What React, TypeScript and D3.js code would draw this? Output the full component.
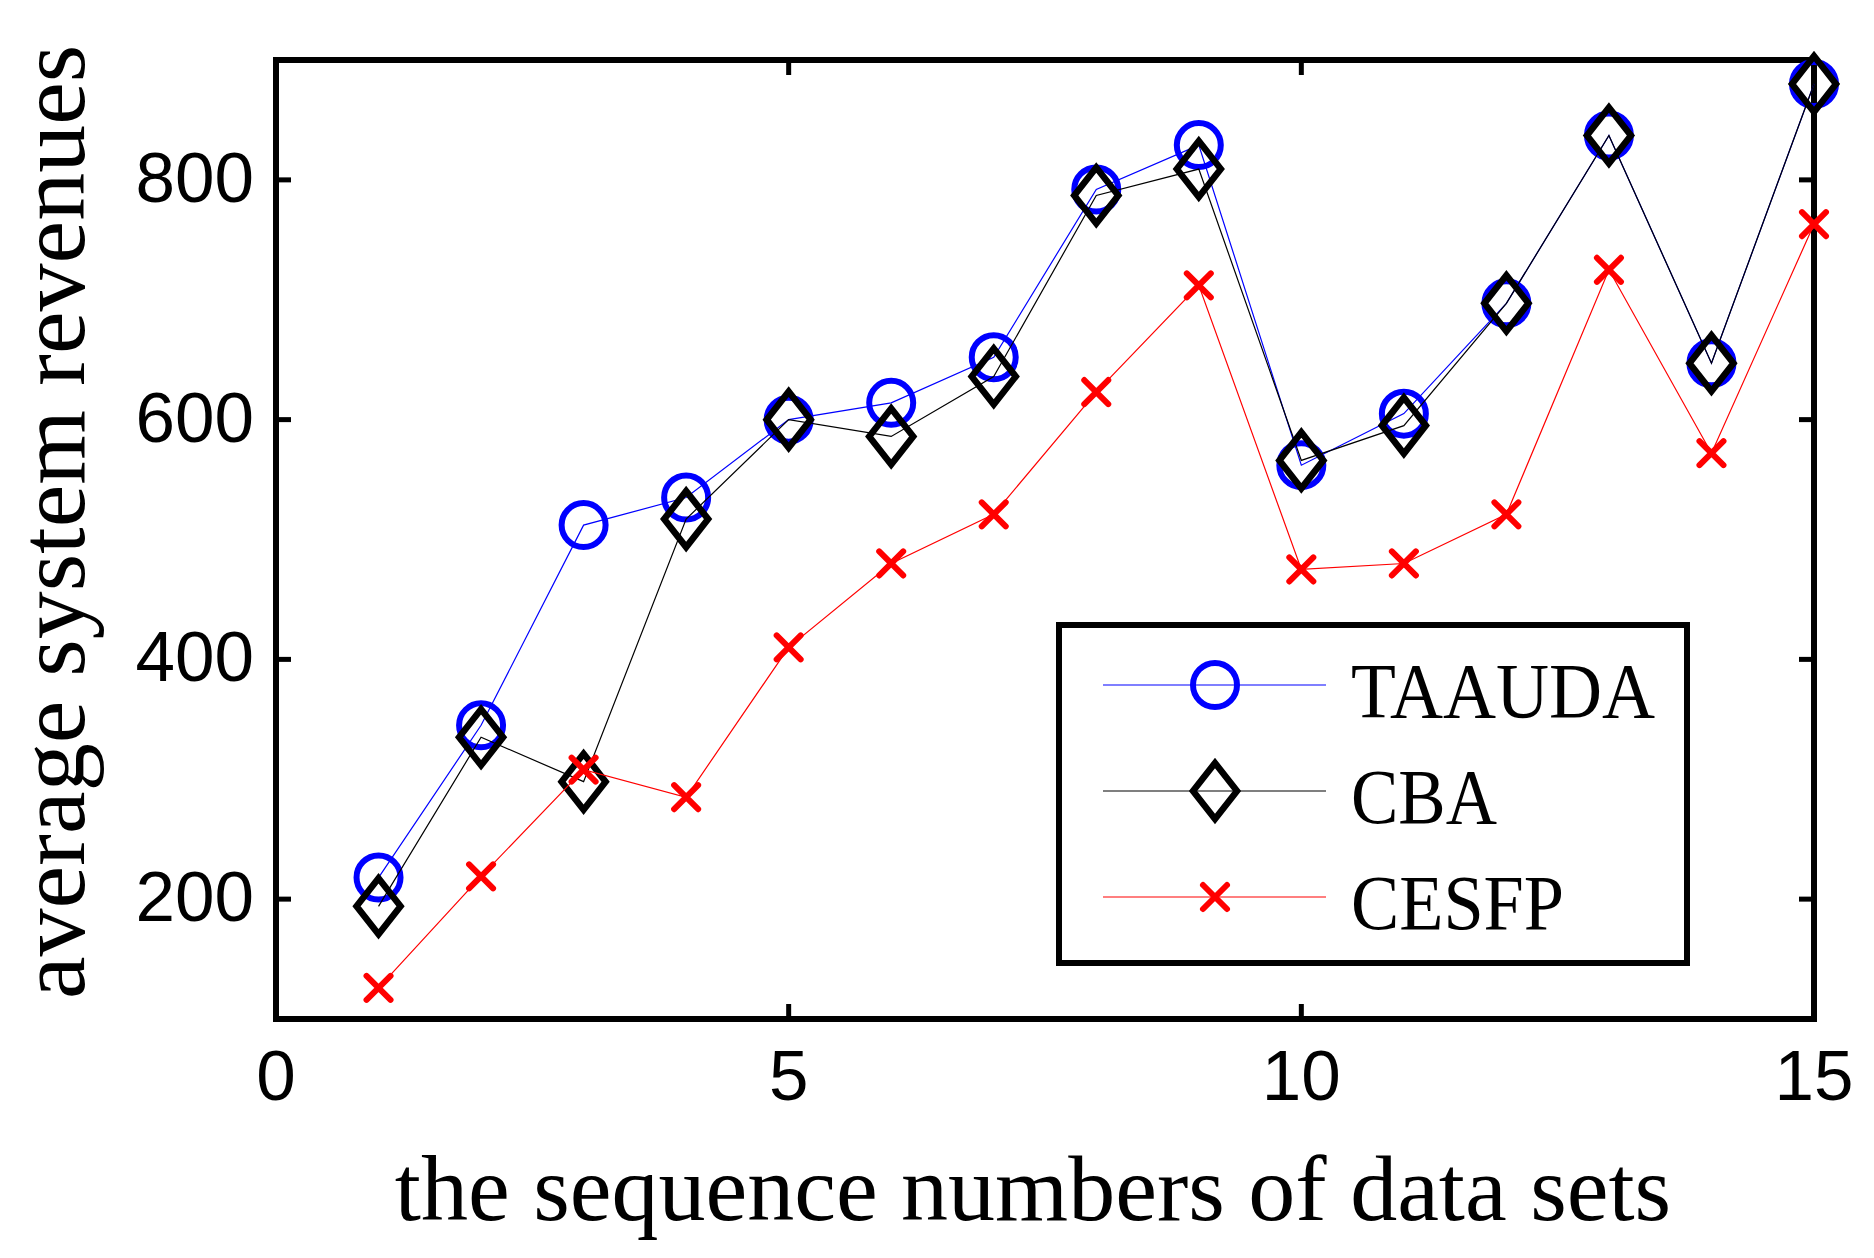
import React, { useEffect, useRef } from 'react';
import * as d3 from 'd3';

// data sets 1..15
const dataSets = [1, 2, 3, 4, 5, 6, 7, 8, 9, 10, 11, 12, 13, 14, 15];
const taauda = [218, 345, 512, 535, 600, 614, 652, 792, 829, 562, 605, 697, 837, 647, 880];
const cba = [194, 335, 298, 517, 600, 586, 636, 787, 809, 566, 595, 697, 837, 647, 880];
const cesfp = [126, 219, 308, 285, 410, 480, 521, 623, 712, 475, 480, 521, 725, 572, 763];

const xTicks = [0, 5, 10, 15];
const yTicks = [200, 400, 600, 800];
const seriesNames = ['TAAUDA', 'CBA', 'CESFP'];

const W = 1874;
const H = 1258;
const serif = '"Liberation Serif", "Times New Roman", serif';
const sans = '"Liberation Sans", Arial, sans-serif';

const App: React.FC = () => {
  const ref = useRef<SVGSVGElement>(null);

  useEffect(() => {
    if (!ref.current) return;
    const svg = d3.select(ref.current).attr('width', W).attr('height', H);
    svg.selectAll('*').remove();

    const left = 276, right = 1814, top = 60, bottom = 1019;
    const x = d3.scaleLinear().domain([0, 15]).range([left, right]);
    const y = d3.scaleLinear().domain([100, 900]).range([bottom, top]);

    svg.append('rect').attr('width', W).attr('height', H).attr('fill', '#fff');

    // axes box
    const g = svg.append('g');
    g.append('rect')
      .attr('x', left).attr('y', top)
      .attr('width', right - left).attr('height', bottom - top)
      .attr('fill', 'none').attr('stroke', '#000').attr('stroke-width', 6);

    const tickLen = 15;
    xTicks.forEach((t) => {
      g.append('line').attr('x1', x(t)).attr('x2', x(t)).attr('y1', bottom).attr('y2', bottom - tickLen)
        .attr('stroke', '#000').attr('stroke-width', 5);
      g.append('line').attr('x1', x(t)).attr('x2', x(t)).attr('y1', top).attr('y2', top + tickLen)
        .attr('stroke', '#000').attr('stroke-width', 5);
      g.append('text').attr('x', x(t)).attr('y', 1100)
        .attr('text-anchor', 'middle').attr('font-family', sans).attr('font-size', 71)
        .text(String(t));
    });
    yTicks.forEach((t) => {
      g.append('line').attr('x1', left).attr('x2', left + tickLen).attr('y1', y(t)).attr('y2', y(t))
        .attr('stroke', '#000').attr('stroke-width', 5);
      g.append('line').attr('x1', right).attr('x2', right - tickLen).attr('y1', y(t)).attr('y2', y(t))
        .attr('stroke', '#000').attr('stroke-width', 5);
      g.append('text').attr('x', 254).attr('y', y(t) + 22)
        .attr('text-anchor', 'end').attr('font-family', sans).attr('font-size', 71)
        .text(String(t));
    });

    // axis labels
    svg.append('text').attr('x', 1033).attr('y', 1220)
      .attr('text-anchor', 'middle').attr('font-family', serif).attr('font-size', 94)
      .text('the sequence numbers of data sets');
    svg.append('text')
      .attr('transform', 'translate(84,522) rotate(-90)')
      .attr('text-anchor', 'middle').attr('font-family', serif).attr('font-size', 96)
      .text('average system revenues');

    // marker painters
    const circle = (sel: any, cx: number, cy: number) =>
      sel.append('circle').attr('cx', cx).attr('cy', cy).attr('r', 22)
        .attr('fill', 'none').attr('stroke', '#0000ff').attr('stroke-width', 6);
    const diamond = (sel: any, cx: number, cy: number) =>
      sel.append('path').attr('d', `M${cx},${cy - 28}L${cx + 22},${cy}L${cx},${cy + 28}L${cx - 22},${cy}Z`)
        .attr('fill', 'none').attr('stroke', '#000').attr('stroke-width', 6.5);
    const cross = (sel: any, cx: number, cy: number) =>
      sel.append('path').attr('d', `M${cx - 12},${cy - 12}L${cx + 12},${cy + 12}M${cx - 12},${cy + 12}L${cx + 12},${cy - 12}`)
        .attr('fill', 'none').attr('stroke', '#ff0000').attr('stroke-width', 6).attr('stroke-linecap', 'round');

    const series = [
      { name: seriesNames[0], values: taauda, color: '#0000ff', marker: circle },
      { name: seriesNames[1], values: cba, color: '#000000', marker: diamond },
      { name: seriesNames[2], values: cesfp, color: '#ff0000', marker: cross },
    ];

    const line = d3.line<number>().x((_, i) => x(dataSets[i])).y((d) => y(d));

    series.forEach((s) => {
      const sg = svg.append('g');
      sg.append('path').attr('d', line(s.values)!)
        .attr('fill', 'none').attr('stroke', s.color).attr('stroke-width', 1.2);
      s.values.forEach((v, i) => s.marker(sg, x(dataSets[i]), y(v)));
    });

    // legend
    const lg = svg.append('g');
    lg.append('rect').attr('x', 1059).attr('y', 625).attr('width', 628).attr('height', 338)
      .attr('fill', '#fff').attr('stroke', '#000').attr('stroke-width', 6);
    const rowY = [685, 791, 897];
    const textLen = [304, 146, 213];
    series.forEach((s, i) => {
      lg.append('line').attr('x1', 1103).attr('x2', 1326).attr('y1', rowY[i]).attr('y2', rowY[i])
        .attr('stroke', s.color).attr('stroke-width', 1.2);
      s.marker(lg, 1215, rowY[i]);
      lg.append('text').attr('x', 1351).attr('y', rowY[i] + 32)
        .attr('font-family', serif).attr('font-size', 78)
        .attr('textLength', textLen[i]).attr('lengthAdjust', 'spacingAndGlyphs')
        .text(s.name);
    });
  }, []);

  return <svg ref={ref} style={{ position: 'absolute', left: 0, top: 0 }}></svg>;
};

export default App;
